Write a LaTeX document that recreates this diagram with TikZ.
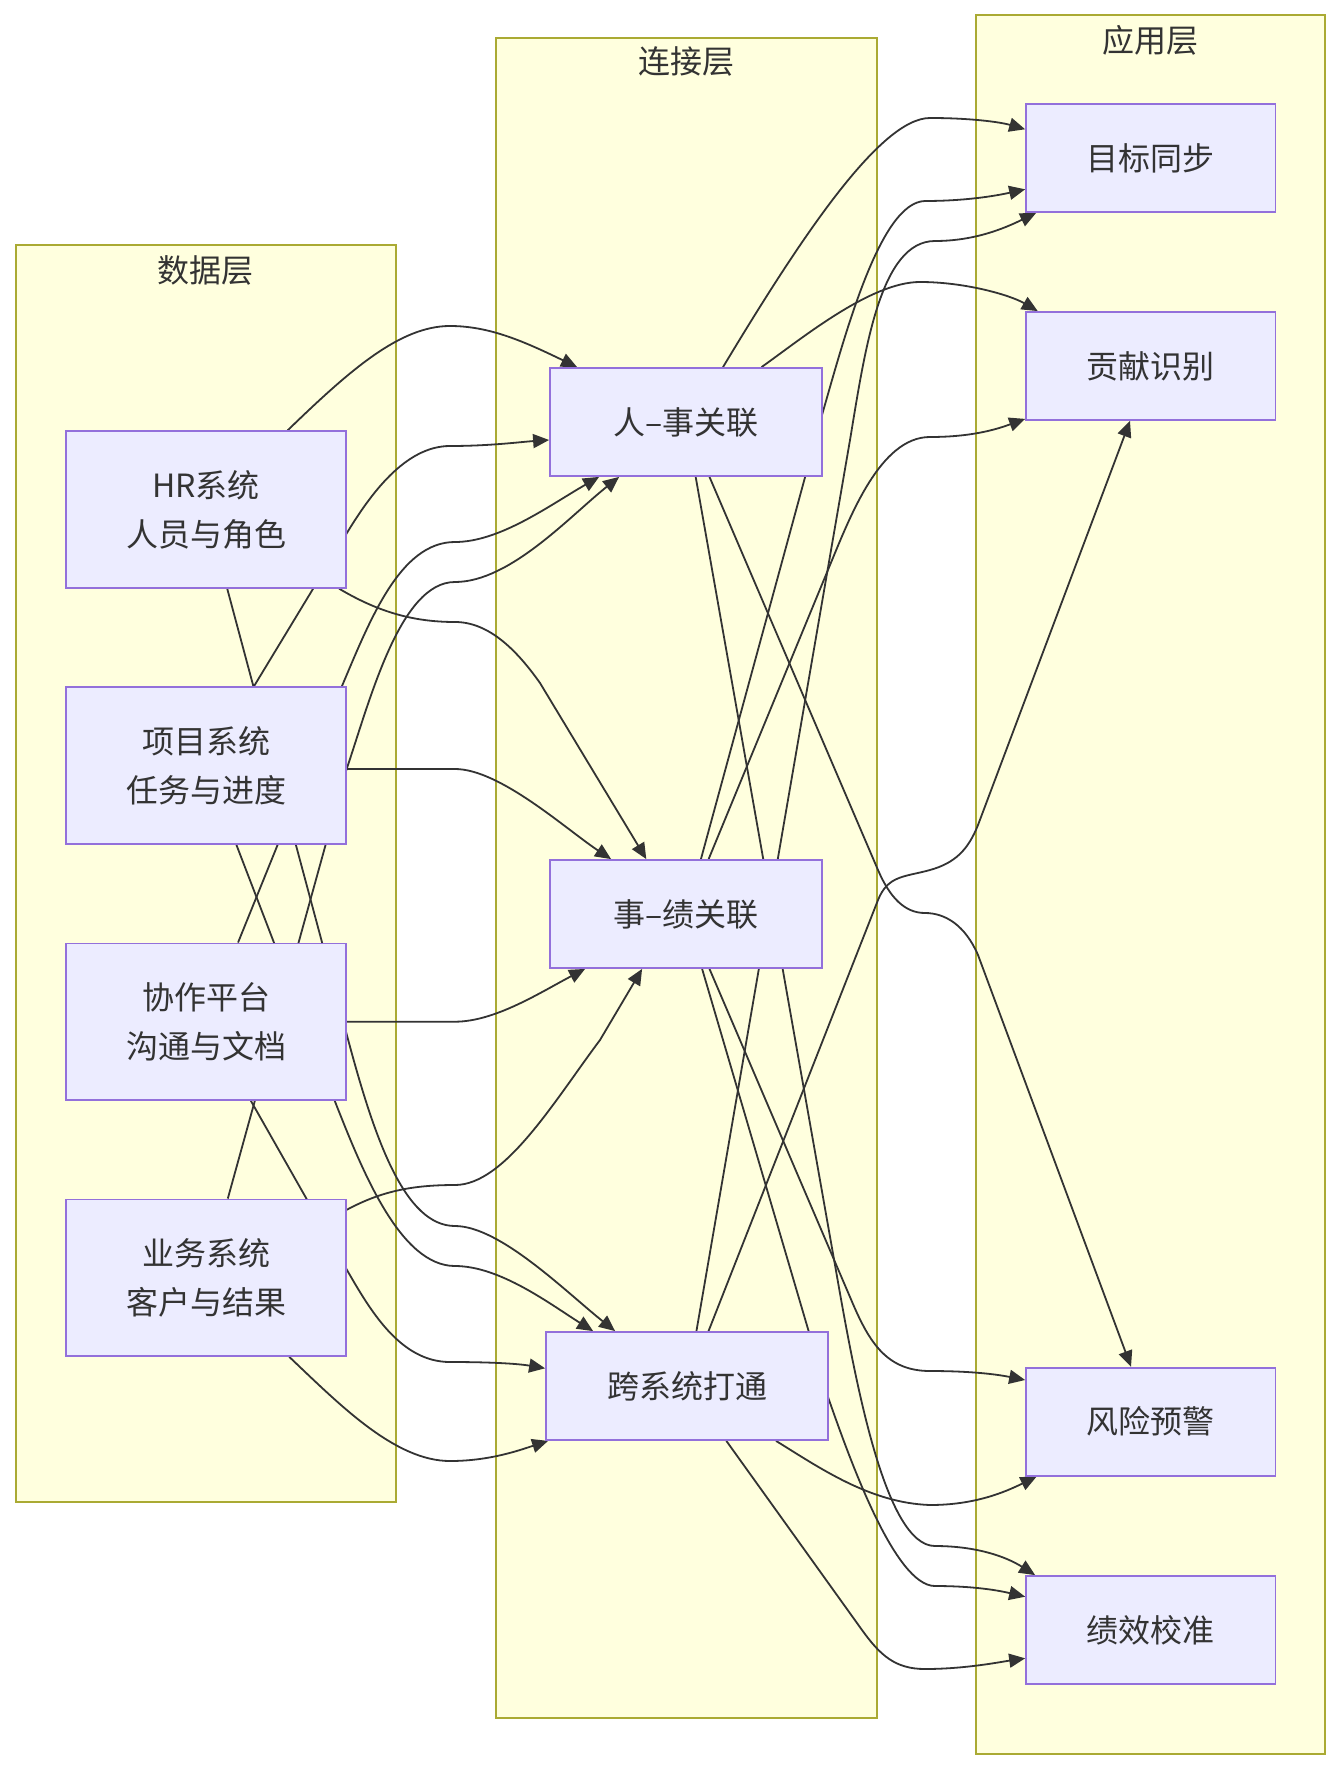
\documentclass[tikz,border=0pt]{standalone}
\usepackage{fontspec}
\setmainfont{Noto Sans CJK SC}
\usetikzlibrary{arrows.meta,calc}
\definecolor{nodefill}{HTML}{ECECFF}
\definecolor{nodeline}{HTML}{9370DB}
\definecolor{clusterfill}{HTML}{FFFFDE}
\definecolor{clusterline}{HTML}{AAAA33}
\definecolor{edgecol}{HTML}{333333}
\definecolor{textcol}{HTML}{333333}
\pgfdeclarelayer{bg}
\pgfdeclarelayer{edges}
\pgfsetlayers{bg,edges,main}
\begin{document}
\begin{tikzpicture}[x=0.5pt,y=-0.5pt,
  box/.style={draw=nodeline, fill=nodefill, line width=0.9pt, text=textcol,
    font=\fontsize{16pt}{24.5pt}\selectfont, align=center, inner sep=0pt},
  databox/.style={box, minimum width=140pt, minimum height=78.25pt},
  connbox/.style={box, minimum width=136pt, minimum height=54pt},
  widebox/.style={box, minimum width=141pt, minimum height=54pt},
  appbox/.style={box, minimum width=124.75pt, minimum height=54pt},
  cluster/.style={draw=clusterline, fill=clusterfill, line width=0.9pt},
  ctitle/.style={text=textcol, font=\fontsize{16pt}{20pt}\selectfont, inner sep=0pt},
  edge/.style={draw=edgecol, line width=0.9pt, -{Triangle[length=8pt,width=7pt]}}
]
\useasboundingbox (0,0) rectangle (1340,1770);
\begin{pgfonlayer}{bg}
  \fill[white] (0,0) rectangle (1340,1770);
  \draw[cluster] (15.7,245) rectangle (396,1501.7);
  \draw[cluster] (495.6,37.7) rectangle (877,1717.7);
  \draw[cluster] (976,15) rectangle (1325,1754);
\end{pgfonlayer}

\node[ctitle] (tdata) at (205.9,270) {数据层};
\node[ctitle] (tconn) at (686.3,61.5) {连接层};
\node[ctitle] (tapp) at (1150.5,40) {应用层};

% data layer
\node[databox] (hr) at (206,509.5) {HR系统\\人员与角色};
\node[databox] (xm) at (206,765.5) {项目系统\\任务与进度};
\node[databox] (xz) at (206,1021.7) {协作平台\\沟通与文档};
\node[databox] (yw) at (206,1277.7) {业务系统\\客户与结果};

% connection layer
\node[connbox] (rs) at (686,422) {人–事关联};
\node[connbox] (sj) at (686,914) {事–绩关联};
\node[widebox] (kx) at (687,1386) {跨系统打通};

% application layer
\node[appbox] (mb) at (1150.8,158) {目标同步};
\node[appbox] (gx) at (1150.8,366) {贡献识别};
\node[appbox] (fx) at (1150.8,1421.7) {风险预警};
\node[appbox] (jx) at (1150.8,1630) {绩效校准};

\begin{pgfonlayer}{edges}
% data -> connection
\draw[edge] (hr) .. controls (350,370) and (400,326) .. (450,326) .. controls (490,326) and (525,342) .. ([xshift=14pt]rs.north west);
\draw[edge] (hr) .. controls (375,610) and (410,622) .. (455,622) .. controls (490,622) and (518,652) .. (540,683) -- ([xshift=48.6pt]sj.north west);
\draw[edge] (hr) -- (348.2,1040) .. controls (375,1140) and (405,1226) .. (455,1226) .. controls (500,1226) and (566,1292) .. ([xshift=35pt]kx.north west);

\draw[edge] (xm) -- (346.7,533.3) .. controls (370,495) and (405,446) .. (450,446) .. controls (490,446) and (520,442) .. ([yshift=-9pt]rs.west);
\draw[edge] ([yshift=-1.75pt]xm.east) -- (455,769) .. controls (500,769) and (567,830) .. ([xshift=31pt]sj.north west);
\draw[edge] (xm) -- (334.8,1101) .. controls (362,1170) and (400,1266) .. (455,1266) .. controls (500,1266) and (550,1304) .. ([xshift=24pt]kx.north west);

\draw[edge] (xz) -- (341.7,686.7) .. controls (370,620) and (400,542) .. (455,542) .. controls (500,542) and (550,505) .. ([xshift=25pt]rs.south west);
\draw[edge] (xz.east) -- (455,1021.7) .. controls (495,1021.7) and (541,992) .. ([xshift=18pt]sj.south west);
\draw[edge] (xz) -- (346,1268.3) .. controls (370,1310) and (400,1362) .. (450,1362) .. controls (495,1362) and (520,1364) .. ([yshift=8.85pt]kx.west);

\draw[edge] (yw) -- (346,771) .. controls (370,700) and (400,582) .. (455,582) .. controls (510,582) and (570,516) .. ([xshift=35pt]rs.south west);
\draw[edge] ([yshift=34pt]yw.east) .. controls (380,1192) and (410,1185) .. (455,1185) .. controls (505,1185) and (555,1100) .. (600,1040) -- ([xshift=46.5pt]sj.south west);
\draw[edge] (yw) .. controls (340,1405) and (395,1461) .. (450,1461) .. controls (490,1461) and (520,1450) .. ([xshift=1.5pt]kx.south west);

% connection -> application
\draw[edge] ([xshift=18.5pt]rs.north) .. controls (800,239) and (880,118) .. (930,118) .. controls (970,118) and (1000,122) .. ([yshift=14.35pt]mb.west);
\draw[edge] ([xshift=37.75pt]rs.north) .. controls (800,340) and (870,282) .. (920,282) .. controls (965,282) and (1010,295) .. ([xshift=6.3pt]gx.north west);
\draw[edge] (rs) -- (878,870) .. controls (890,898) and (905,913) .. (925,913) .. controls (945,913) and (965,925) .. (978,955) -- ([xshift=-9.9pt]fx.north);
\draw[edge] (rs) -- (835,1265) .. controls (855,1380) and (885,1546) .. (935,1546) .. controls (975,1546) and (1005,1556) .. ([xshift=5pt]jx.north west);

\draw[edge] (sj) -- (822,415) .. controls (845,335) and (880,202) .. (925,201) .. controls (965,201) and (995,196) .. ([yshift=-15.65pt]mb.west);
\draw[edge] (sj) -- (830,565) .. controls (850,517) and (880,437) .. (930,437) .. controls (975,437) and (1000,428) .. ([yshift=1pt]gx.south west);
\draw[edge] (sj) -- (850,1297) .. controls (868,1340) and (885,1371) .. (930,1371) .. controls (975,1371) and (1000,1375) .. ([yshift=20.85pt]fx.west);
\draw[edge] (sj) -- (828,1397) .. controls (850,1460) and (895,1586) .. (935,1586) .. controls (980,1586) and (1005,1592) .. ([yshift=16.65pt]jx.west);

\draw[edge] (kx) -- (850,440) .. controls (865,350) and (880,241) .. (935,241) .. controls (975,241) and (1005,228) .. ([xshift=5.5pt]mb.south west);
\draw[edge] (kx) -- (878,900) .. controls (888,875) and (905,877) .. (930,870) .. controls (955,863) and (968,850) .. (978,825) -- ([xshift=-10.4pt]gx.south);
\draw[edge] (kx) .. controls (820,1468) and (870,1503) .. (930,1505) .. controls (975,1505) and (1005,1492) .. ([xshift=5.7pt]fx.south west);
\draw[edge] (kx) -- (862,1630) .. controls (880,1655) and (895,1669) .. (925,1669) .. controls (965,1669) and (1000,1662) .. ([yshift=-14.15pt]jx.west);
\end{pgfonlayer}
\end{tikzpicture}
\end{document}
